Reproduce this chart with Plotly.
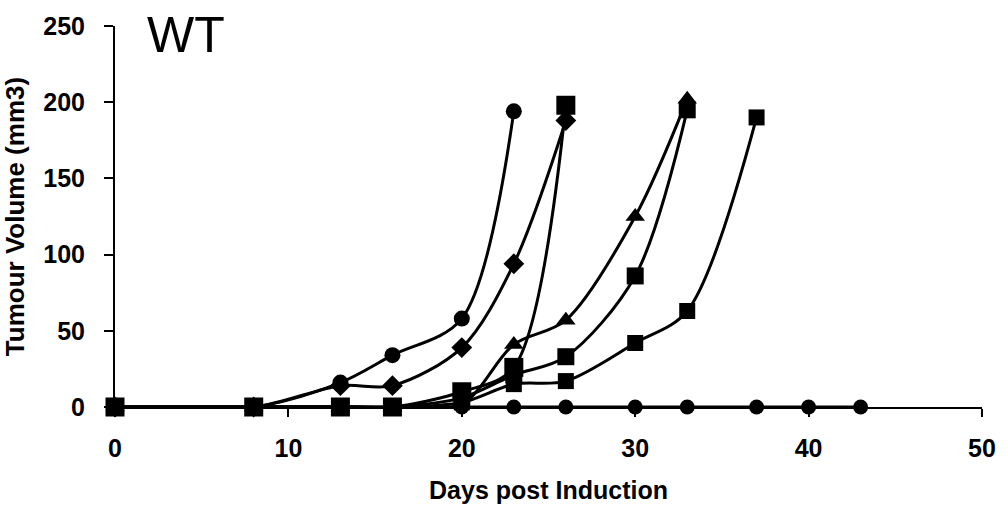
import plotly.graph_objects as go

# ---- data ----
days_zero = [0, 8, 13, 16, 20, 23, 26, 30, 33, 37, 40, 43]
vol_zero = [0, 0, 0, 0, 0, 0, 0, 0, 0, 0, 0, 0]

days_fast = [0, 8, 13, 16, 20, 23]
vol_fast = [0, 0, 16, 34, 58, 194]

days_dia = [0, 8, 13, 16, 20, 23, 26]
vol_dia = [0, 0, 14, 14, 39, 94, 188]

days_tri = [0, 8, 13, 16, 20, 23, 26, 30, 33]
vol_tri = [0, 0, 0, 0, 2, 41, 57, 125, 202]

days_sqA = [0, 8, 13, 16, 20, 23, 26]
vol_sqA = [0, 0, 0, 0, 10, 26, 198]

days_sqB = [0, 8, 13, 16, 20, 23, 26, 30, 33]
vol_sqB = [0, 0, 0, 0, 6, 21, 33, 86, 195]

days_sqC = [0, 8, 13, 16, 20, 23, 26, 30, 33, 37]
vol_sqC = [0, 0, 0, 0, 3, 15, 17, 42, 63, 190]

x_ticks = [0, 10, 20, 30, 40, 50]
y_ticks = [0, 50, 100, 150, 200, 250]

series = [
    (days_zero, vol_zero, "circle", 15),
    (days_fast, vol_fast, "circle", 16),
    (days_dia, vol_dia, "diamond", 16),
    (days_tri, vol_tri, "triangle-up", 17),
    (days_sqC, vol_sqC, "square", 16),
    (days_sqB, vol_sqB, "square", 17),
    (days_sqA, vol_sqA, "square", 19),
]

fig = go.Figure()
for xs, ys, sym, sz in series:
    fig.add_trace(go.Scatter(
        x=xs, y=ys, mode="lines+markers",
        line=dict(color="black", width=3, shape="spline", smoothing=0.9),
        marker=dict(symbol=sym, size=sz, color="black"),
        showlegend=False, cliponaxis=False,
    ))

font_family = "Liberation Sans, Arial, sans-serif"

fig.update_layout(
    width=1008, height=512,
    margin=dict(l=115, r=21, t=24, b=101),
    paper_bgcolor="white", plot_bgcolor="white",
    font=dict(family=font_family, color="black"),
    xaxis=dict(
        range=[0, 50], tickvals=x_ticks, ticktext=[str(v) for v in x_ticks],
        showline=True, linecolor="black", linewidth=2,
        ticks="outside", ticklen=8, tickwidth=2, tickcolor="black",
        showgrid=False, zeroline=False,
        tickfont=dict(size=25, family=font_family, weight="bold"),
        ticklabelstandoff=10,
        title=dict(text="<b>Days post Induction</b>", font=dict(size=25), standoff=20),
    ),
    yaxis=dict(
        range=[0, 250], tickvals=y_ticks, ticktext=[str(v) for v in y_ticks],
        showline=True, linecolor="black", linewidth=2,
        ticks="outside", ticklen=9, tickwidth=2, tickcolor="black",
        showgrid=False, zeroline=False,
        tickfont=dict(size=25, family=font_family, weight="bold"),
        ticklabelstandoff=14,
        title=dict(text="<b>Tumour Volume (mm3)</b>", font=dict(size=26), standoff=12),
    ),
    annotations=[dict(
        text="WT", xref="paper", yref="paper", x=0.035, y=1.055,
        xanchor="left", yanchor="top", showarrow=False,
        font=dict(size=50, family=font_family, color="black"),
    )],
)

fig.write_html("out.html")
